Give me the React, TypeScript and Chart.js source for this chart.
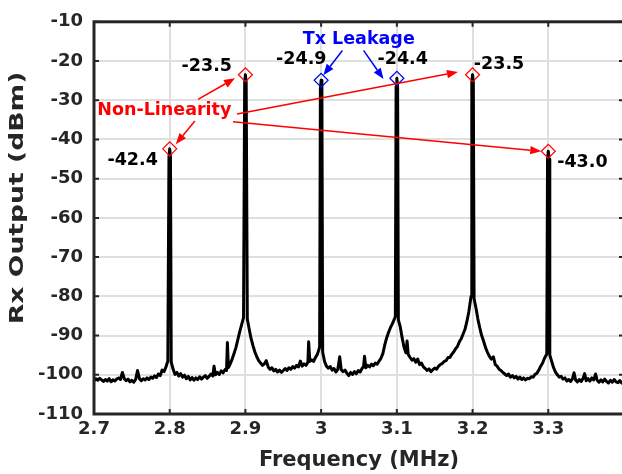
import React, { useEffect, useRef } from "react";
import { Chart, registerables } from "chart.js";

Chart.register(...registerables);

// ---- data ----
const freqs: number[] = [
  2.7000, 2.7025, 2.7050, 2.7075, 2.7100, 2.7125, 2.7150, 2.7175, 2.7200, 2.7225,
  2.7250, 2.7275, 2.7300, 2.7325, 2.7350, 2.7375, 2.7400, 2.7425, 2.7450, 2.7475,
  2.7500, 2.7525, 2.7550, 2.7575, 2.7600, 2.7625, 2.7650, 2.7675, 2.7700, 2.7725,
  2.7750, 2.7775, 2.7800, 2.7825, 2.7850, 2.7875, 2.7900, 2.7925, 2.7950, 2.7975,
  2.7990, 2.8000, 2.8010, 2.8020, 2.8045, 2.8070, 2.8095, 2.8120, 2.8145, 2.8170,
  2.8195, 2.8220, 2.8245, 2.8270, 2.8295, 2.8320, 2.8345, 2.8370, 2.8395, 2.8420,
  2.8445, 2.8470, 2.8495, 2.8520, 2.8545, 2.8570, 2.8585, 2.8605, 2.8630, 2.8655,
  2.8680, 2.8705, 2.8730, 2.8750, 2.8762, 2.8775, 2.8800, 2.8825, 2.8850, 2.8875,
  2.8900, 2.8925, 2.8950, 2.8975, 2.8990, 2.9000, 2.9010, 2.9025, 2.9050, 2.9075,
  2.9100, 2.9125, 2.9150, 2.9175, 2.9200, 2.9225, 2.9250, 2.9275, 2.9300, 2.9325,
  2.9350, 2.9375, 2.9400, 2.9425, 2.9450, 2.9475, 2.9500, 2.9525, 2.9550, 2.9575,
  2.9600, 2.9625, 2.9650, 2.9675, 2.9700, 2.9725, 2.9750, 2.9775, 2.9800, 2.9825,
  2.9835, 2.9850, 2.9875, 2.9900, 2.9925, 2.9950, 2.9980, 2.9990, 3.0000, 3.0010,
  3.0020, 3.0045, 3.0070, 3.0095, 3.0120, 3.0145, 3.0170, 3.0195, 3.0220, 3.0245,
  3.0265, 3.0290, 3.0315, 3.0340, 3.0365, 3.0390, 3.0415, 3.0440, 3.0465, 3.0490,
  3.0515, 3.0540, 3.0560, 3.0573, 3.0590, 3.0615, 3.0640, 3.0665, 3.0690, 3.0715,
  3.0740, 3.0765, 3.0790, 3.0815, 3.0840, 3.0865, 3.0890, 3.0915, 3.0940, 3.0980,
  3.0990, 3.1000, 3.1010, 3.1020, 3.1045, 3.1070, 3.1095, 3.1120, 3.1135, 3.1150,
  3.1175, 3.1200, 3.1225, 3.1250, 3.1275, 3.1300, 3.1325, 3.1350, 3.1375, 3.1400,
  3.1425, 3.1450, 3.1475, 3.1500, 3.1525, 3.1550, 3.1575, 3.1600, 3.1625, 3.1650,
  3.1675, 3.1700, 3.1725, 3.1750, 3.1775, 3.1800, 3.1825, 3.1850, 3.1875, 3.1900,
  3.1925, 3.1950, 3.1980, 3.1990, 3.2000, 3.2010, 3.2020, 3.2045, 3.2070, 3.2095,
  3.2120, 3.2145, 3.2170, 3.2195, 3.2220, 3.2245, 3.2275, 3.2300, 3.2325, 3.2350,
  3.2375, 3.2400, 3.2425, 3.2450, 3.2475, 3.2500, 3.2525, 3.2550, 3.2575, 3.2600,
  3.2625, 3.2650, 3.2675, 3.2700, 3.2725, 3.2750, 3.2775, 3.2800, 3.2825, 3.2850,
  3.2875, 3.2900, 3.2925, 3.2950, 3.2980, 3.2990, 3.3000, 3.3010, 3.3020, 3.3045,
  3.3070, 3.3095, 3.3120, 3.3145, 3.3170, 3.3195, 3.3220, 3.3245, 3.3270, 3.3295,
  3.3320, 3.3340, 3.3360, 3.3385, 3.3410, 3.3435, 3.3460, 3.3480, 3.3500, 3.3525,
  3.3550, 3.3575, 3.3600, 3.3625, 3.3645, 3.3670, 3.3695, 3.3720, 3.3745, 3.3770,
  3.3795, 3.3820, 3.3845, 3.3870, 3.3895, 3.3920, 3.3945, 3.3970, 3.4000,
];

const levels: number[] = [
  -101.5, -101.0, -101.4, -100.9, -101.3, -101.7, -101.2, -101.6, -101.0, -101.8,
  -101.3, -101.6, -101.1, -100.8, -101.2, -99.4, -101.0, -101.5, -101.1, -101.8,
  -101.4, -101.9, -101.2, -98.9, -101.0, -101.5, -101.0, -101.3, -100.8, -101.2,
  -100.6, -100.9, -100.3, -100.7, -99.8, -100.2, -98.8, -99.2, -98.0, -96.5,
  -44.5, -42.4, -44.5, -96.8, -98.6, -99.9, -99.4, -100.3, -99.7, -100.6,
  -100.1, -101.0, -100.4, -101.3, -100.7, -101.4, -100.8, -101.2, -100.5, -101.1,
  -100.6, -100.2, -100.9, -100.4, -99.8, -100.3, -97.8, -100.0, -99.4, -99.9,
  -99.0, -99.5, -98.7, -98.9, -91.8, -98.2, -97.2, -96.0, -94.6, -93.0,
  -91.0, -89.0, -87.2, -85.4, -25.5, -23.5, -25.5, -85.8, -88.4, -90.8,
  -92.6, -94.2, -95.4, -96.4, -97.0, -97.6, -97.2, -96.4, -98.0, -98.6,
  -98.2, -99.0, -98.6, -99.3, -98.8, -99.4, -98.9, -98.4, -98.9, -98.2,
  -98.6, -97.9, -98.3, -97.6, -98.0, -96.5, -97.8, -97.2, -97.6, -96.8,
  -91.6, -96.6, -96.2, -96.6, -95.6, -94.8, -93.0, -27.0, -24.9, -27.0,
  -94.2, -96.6, -97.8, -98.3, -97.9, -98.8, -98.4, -99.3, -98.6, -95.4,
  -98.7, -99.2, -98.8, -99.6, -100.2, -99.4, -99.9, -99.2, -99.7, -98.9,
  -99.3, -98.4, -97.9, -95.3, -98.2, -97.6, -98.0, -97.3, -97.7, -97.0,
  -97.3, -96.5, -95.8, -94.6, -92.4, -90.6, -89.2, -88.0, -87.0, -85.2,
  -26.5, -24.4, -26.5, -86.0, -87.8, -90.6, -93.0, -94.4, -91.4, -94.8,
  -95.6, -96.3, -95.9, -96.8, -96.0, -97.4, -97.0, -98.0, -98.4, -98.9,
  -98.5, -99.2, -98.7, -98.3, -98.6, -97.8, -97.4, -97.1, -96.6, -96.4,
  -95.6, -95.6, -94.8, -94.2, -93.4, -92.8, -91.6, -90.8, -89.6, -88.4,
  -86.4, -84.0, -80.0, -25.5, -23.5, -25.5, -80.6, -83.0, -85.8, -88.0,
  -90.0, -91.4, -93.0, -94.2, -95.2, -96.0, -95.4, -97.4, -97.8, -98.6,
  -98.9, -99.4, -99.8, -100.2, -99.8, -100.6, -100.2, -100.8, -100.4, -101.1,
  -100.6, -101.2, -100.8, -101.3, -100.9, -101.0, -100.5, -100.6, -99.9, -99.6,
  -98.8, -97.8, -97.0, -95.8, -94.7, -45.0, -43.0, -45.0, -95.0, -96.6,
  -98.2, -99.3, -100.0, -100.6, -100.4, -101.1, -100.8, -101.6, -101.2, -101.7,
  -101.0, -99.5, -101.3, -101.8, -101.2, -101.7, -100.9, -99.7, -101.5, -101.0,
  -101.6, -100.8, -101.3, -99.8, -101.4, -101.9, -101.3, -101.8, -101.1, -101.7,
  -102.1, -101.4, -101.9, -101.2, -101.8, -102.0, -101.5, -102.1, -101.6,
];

// marked peaks
const nonLinFreqs = [2.8, 2.9, 3.2, 3.3];
const nonLinLevels = [-42.4, -23.5, -23.5, -43.0];
const txFreqs = [3.0, 3.1];
const txLevels = [-24.9, -24.4];

const xTicks = [2.7, 2.8, 2.9, 3.0, 3.1, 3.2, 3.3, 3.4];
const xTickLabels = ["2.7", "2.8", "2.9", "3", "3.1", "3.2", "3.3", ""];
const yTicks = [-110, -100, -90, -80, -70, -60, -50, -40, -30, -20, -10];

// annotation texts (value labels) and placements in data coordinates
const valueLabels = ["-42.4", "-23.5", "-24.9", "-24.4", "-23.5", "-43.0"];
const valueLabelAt: [number, number][] = [
  [2.751, -45.3], [2.849, -21.3], [2.9738, -19.5], [3.1077, -19.5], [3.235, -21.0], [3.345, -45.8],
];
const redArrows: [number, number, number, number][] = [
  [2.8374, -29.8, 2.8862, -24.4],
  [2.8332, -35.3, 2.808, -41.2],
  [2.8889, -33.5, 3.1807, -22.8],
  [2.8836, -35.5, 3.2907, -43.0],
];
const blueArrows: [number, number, number, number][] = [
  [3.0281, -17.3, 3.0029, -23.6],
  [3.056, -17.3, 3.0824, -24.6],
];

const FONT = "'DejaVu Sans', sans-serif";
const TEXT = "#262626";

function arrow(ctx: CanvasRenderingContext2D, x1: number, y1: number, x2: number, y2: number, color: string) {
  const ang = Math.atan2(y2 - y1, x2 - x1);
  const hl = 11, hw = 4.2;
  const bx = x2 - hl * Math.cos(ang), by = y2 - hl * Math.sin(ang);
  ctx.save();
  ctx.strokeStyle = color;
  ctx.fillStyle = color;
  ctx.lineWidth = 1.5;
  ctx.beginPath();
  ctx.moveTo(x1, y1);
  ctx.lineTo(bx, by);
  ctx.stroke();
  ctx.beginPath();
  ctx.moveTo(x2, y2);
  ctx.lineTo(bx + hw * Math.sin(ang), by - hw * Math.cos(ang));
  ctx.lineTo(bx - hw * Math.sin(ang), by + hw * Math.cos(ang));
  ctx.closePath();
  ctx.fill();
  ctx.restore();
}

const framePlugin = {
  id: "frameAndNotes",
  afterDraw(chart: any) {
    const { ctx, chartArea } = chart;
    const xs = chart.scales.x, ys = chart.scales.y;
    const { left, right, top, bottom } = chartArea;
    ctx.save();
    // inward tick marks
    ctx.strokeStyle = TEXT;
    ctx.lineWidth = 2;
    ctx.beginPath();
    for (const v of xTicks) {
      const px = xs.getPixelForValue(v);
      ctx.moveTo(px, bottom); ctx.lineTo(px, bottom - 5);
      ctx.moveTo(px, top); ctx.lineTo(px, top + 5);
    }
    for (const v of yTicks) {
      const py = ys.getPixelForValue(v);
      ctx.moveTo(left, py); ctx.lineTo(left + 5, py);
      ctx.moveTo(right, py); ctx.lineTo(right - 5, py);
    }
    ctx.stroke();
    // frame
    ctx.lineWidth = 3;
    ctx.strokeRect(left, top, right - left, bottom - top);

    // arrows
    for (const a of redArrows) {
      arrow(ctx, xs.getPixelForValue(a[0]), ys.getPixelForValue(a[1]), xs.getPixelForValue(a[2]), ys.getPixelForValue(a[3]), "#ff0000");
    }
    for (const a of blueArrows) {
      arrow(ctx, xs.getPixelForValue(a[0]), ys.getPixelForValue(a[1]), xs.getPixelForValue(a[2]), ys.getPixelForValue(a[3]), "#0000ff");
    }
    // texts
    ctx.textAlign = "center";
    ctx.textBaseline = "middle";
    ctx.font = `bold 17.5px ${FONT}`;
    ctx.fillStyle = "#000000";
    valueLabels.forEach((t, i) => {
      const [fx, fy] = valueLabelAt[i];
      ctx.fillText(t, xs.getPixelForValue(fx), ys.getPixelForValue(fy));
    });
    ctx.fillStyle = "#ff0000";
    ctx.fillText("Non-Linearity", xs.getPixelForValue(2.7929), ys.getPixelForValue(-32.5));
    ctx.fillStyle = "#0000ff";
    ctx.fillText("Tx Leakage", xs.getPixelForValue(3.0497), ys.getPixelForValue(-14.5));
    ctx.restore();
  },
};

export default function App() {
  const ref = useRef<HTMLCanvasElement>(null);
  useEffect(() => {
    const canvas = ref.current;
    if (!canvas) return;
    const chart = new Chart(canvas, {
      type: "line",
      data: {
        datasets: [
          {
            type: "scatter",
            label: "Non-Linearity",
            data: nonLinFreqs.map((f, i) => ({ x: f, y: nonLinLevels[i] })),
            pointStyle: "rectRot",
            pointRadius: 7,
            borderColor: "#ff0000",
            backgroundColor: "rgba(0,0,0,0)",
            borderWidth: 1.2,
            order: 0,
          } as any,
          {
            type: "scatter",
            label: "Tx Leakage",
            data: txFreqs.map((f, i) => ({ x: f, y: txLevels[i] })),
            pointStyle: "rectRot",
            pointRadius: 7,
            borderColor: "#0000ff",
            backgroundColor: "rgba(0,0,0,0)",
            borderWidth: 1.2,
            order: 0,
          } as any,
          {
            type: "line",
            label: "Rx Output",
            data: freqs.map((f, i) => ({ x: f, y: levels[i] })),
            borderColor: "#000000",
            borderWidth: 3,
            borderJoinStyle: "round",
            pointRadius: 0,
            tension: 0,
            order: 1,
          } as any,
        ],
      },
      options: {
        animation: false,
        responsive: false,
        devicePixelRatio: 1,
        layout: { padding: { top: 14, right: 16, left: 0, bottom: 0 } },
        plugins: { legend: { display: false }, tooltip: { enabled: false } },
        scales: {
          x: {
            type: "linear",
            min: 2.7,
            max: 3.4,
            afterBuildTicks: (s: any) => { s.ticks = xTicks.map((v) => ({ value: v })); },
            afterFit: (s: any) => { s.height = 60; },
            ticks: {
              autoSkip: false,
              maxRotation: 0,
              padding: 5,
              color: TEXT,
              font: { family: FONT, weight: "bold", size: 18 },
              callback: (v: any, i: number) => xTickLabels[i],
            },
            grid: { color: "#dfdfdf", lineWidth: 2, drawTicks: false },
            border: { display: false },
            title: {
              display: true,
              text: "Frequency (MHz)",
              color: TEXT,
              font: { family: FONT, weight: "bold", size: 21 },
              padding: { top: 0, bottom: 1 },
            },
          },
          y: {
            type: "linear",
            min: -110,
            max: -10,
            afterBuildTicks: (s: any) => { s.ticks = yTicks.map((v) => ({ value: v })); },
            afterFit: (s: any) => {
              s.width = 94;
              if (!s.__stretched) {
                const orig = s.drawTitle.bind(s);
                s.drawTitle = (...args: any[]) => {
                  const c = s.ctx;
                  const cy = (s.top + s.bottom) / 2;
                  c.save();
                  c.translate(0, cy - 20);
                  c.scale(1, 1.33);
                  c.translate(0, -cy);
                  orig(...args);
                  c.restore();
                };
                s.__stretched = true;
              }
            },
            ticks: {
              padding: 11,
              color: TEXT,
              font: { family: FONT, weight: "bold", size: 18 },
              callback: (v: any) => String(v),
            },
            grid: { color: "#dfdfdf", lineWidth: 2, drawTicks: false },
            border: { display: false },
            title: {
              display: true,
              text: "Rx Output (dBm)",
              color: TEXT,
              font: { family: FONT, weight: "bold", size: 20 },
              padding: { top: 6, bottom: 0 },
            },
          },
        },
      },
      plugins: [framePlugin],
    } as any);
    return () => chart.destroy();
  }, []);

  return (
    <div style={{ position: "fixed", left: 0, top: 0, width: 622, height: 474, overflow: "hidden", background: "#ffffff" }}>
      <canvas ref={ref} width={640} height={474} style={{ display: "block" }} />
    </div>
  );
}
